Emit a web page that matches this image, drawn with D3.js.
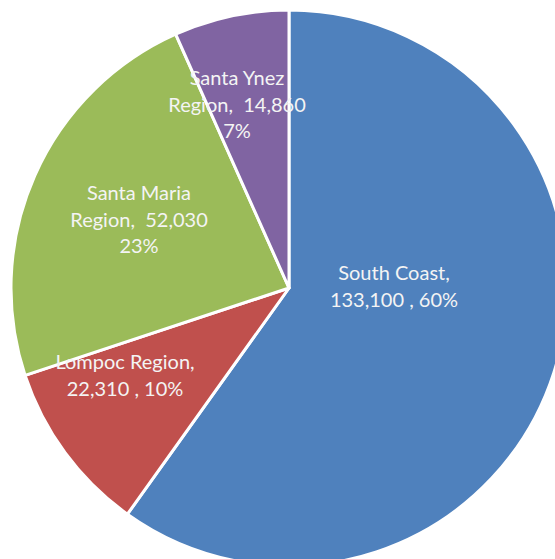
<!DOCTYPE html>
<html lang="en">
<head>
<meta charset="UTF-8">
<title>Regions</title>
<script src="https://d3js.org/d3.v7.min.js"></script>
<style>
  html, body { margin: 0; padding: 0; background: #fff; overflow: hidden; }
  svg { display: block; }
</style>
</head>
<body>
<div id="chart"></div>
<script>
// data
const regions = ["South Coast", "Lompoc Region", "Santa Maria Region", "Santa Ynez Region"];
const counts = [133100, 22310, 52030, 14860];
const percents = ["60%", "10%", "23%", "7%"];
const labelLines = [
  ["South Coast,", "133,100 , 60%"],
  ["Lompoc Region,", "22,310 , 10%"],
  ["Santa Maria", "Region,  52,030", "23%"],
  ["Santa Ynez", "Region,  14,860", "7%"]
];
const colors = ["#4f81bd", "#c0504d", "#9bbb59", "#8064a2"];

// where Excel put each label (center of first line)
const labelAt = [[394, 273], [125, 362], [139, 193], [237, 78]];

const width = 555, height = 559;
const cx = 289, cy = 288, radius = 278;

const svg = d3.select("#chart").append("svg")
  .attr("width", width)
  .attr("height", height);

const g = svg.append("g").attr("transform", `translate(${cx},${cy})`);

const pie = d3.pie().sort(null).value(d => d)(counts);
const arc = d3.arc().innerRadius(0).outerRadius(radius);

g.selectAll("path")
  .data(pie)
  .enter().append("path")
  .attr("d", arc)
  .attr("fill", (d, i) => colors[i])
  .attr("stroke", "#fff")
  .attr("stroke-width", 3)
  .attr("stroke-linejoin", "round");

const lineH = 26.5;
svg.selectAll("text.lbl")
  .data(labelLines)
  .enter().append("text")
  .attr("class", "lbl")
  .attr("text-anchor", "middle")
  .attr("font-family", "Lato, 'Open Sans', sans-serif")
  .attr("font-size", 20)
  .attr("fill", "#f4f4f4")
  .each(function (lines, i) {
    const t = d3.select(this);
    lines.forEach((s, k) => {
      t.append("tspan")
        .attr("x", labelAt[i][0])
        .attr("y", labelAt[i][1] + k * lineH)
        .attr("dy", "0.35em")
        .attr("xml:space", "preserve")
        .style("white-space", "pre")
        .text(s);
    });
  });
</script>
</body>
</html>
